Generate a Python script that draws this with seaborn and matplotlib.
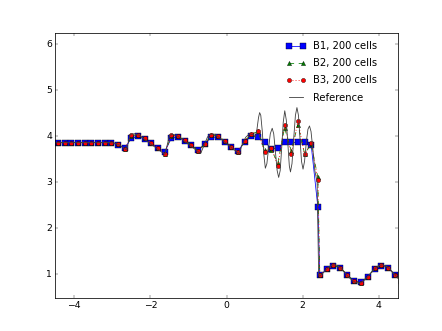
import numpy as np
import pandas as pd
import matplotlib
matplotlib.use("Agg")
import matplotlib.pyplot as plt
import seaborn as sns

plt.style.use("classic")
plt.rcParams["font.family"] = ["DejaVu Sans"]

# cell-centre positions of the plotted markers (200-cell runs)
x_num = [-4.6, -4.425, -4.25, -4.075, -3.9, -3.725, -3.55, -3.375, -3.2, -3.025,
         -2.85, -2.675, -2.5, -2.325, -2.15, -1.975, -1.8, -1.625, -1.45, -1.275,
         -1.1, -0.925, -0.75, -0.575, -0.4, -0.225, -0.05, 0.125, 0.3, 0.475,
         0.65, 0.825, 1.0, 1.175, 1.35, 1.525, 1.7, 1.875, 2.05, 2.225,
         2.4, 2.45, 2.63, 2.81, 2.99, 3.17, 3.35, 3.53, 3.71, 3.89,
         4.07, 4.25, 4.43, 4.61]

b1 = [3.857, 3.857, 3.857, 3.857, 3.857, 3.857, 3.857, 3.857, 3.857, 3.857,
      3.80, 3.74, 3.95, 4.00, 3.93, 3.84, 3.74, 3.66, 3.95, 3.98,
      3.90, 3.80, 3.70, 3.82, 3.98, 3.97, 3.88, 3.77, 3.67, 3.88,
      4.00, 3.98, 3.88, 3.72, 3.74, 3.86, 3.86, 3.86, 3.88, 3.80,
      2.45, 0.97, 1.10, 1.18, 1.13, 0.98, 0.85, 0.82, 0.94, 1.11,
      1.18, 1.13, 0.98, 0.85]

b2 = [3.857, 3.857, 3.857, 3.857, 3.857, 3.857, 3.857, 3.857, 3.857, 3.857,
      3.83, 3.72, 4.01, 4.03, 3.95, 3.85, 3.74, 3.62, 4.01, 4.00,
      3.91, 3.81, 3.68, 3.82, 4.02, 4.00, 3.89, 3.77, 3.65, 3.89,
      4.04, 4.10, 3.70, 3.70, 3.42, 4.18, 3.68, 4.25, 3.62, 3.82,
      3.10, 0.97, 1.10, 1.19, 1.14, 0.98, 0.84, 0.81, 0.94, 1.12,
      1.19, 1.14, 0.97, 0.84]

b3 = [3.857, 3.857, 3.857, 3.857, 3.857, 3.857, 3.857, 3.857, 3.857, 3.857,
      3.83, 3.71, 4.02, 4.03, 3.95, 3.85, 3.74, 3.61, 4.02, 4.00,
      3.91, 3.81, 3.68, 3.82, 4.03, 4.00, 3.89, 3.77, 3.65, 3.90,
      4.04, 4.12, 3.65, 3.75, 3.35, 4.25, 3.62, 4.32, 3.60, 3.85,
      3.05, 0.97, 1.10, 1.19, 1.14, 0.98, 0.84, 0.81, 0.94, 1.12,
      1.19, 1.14, 0.97, 0.84]

x_ref = [-4.6, -3.1, -2.95, -2.8, -2.7, -2.63, -2.58, -2.53, -2.42, -2.3,
         -1.62, -1.56, -1.50, -1.42, -1.3, -0.68, -0.6, -0.5, -0.42, -0.3,
         0.32, 0.4, 0.5, 0.6, 0.7, 0.76, 0.80, 0.84, 0.87, 0.90,
         0.94, 0.98, 1.02, 1.06, 1.10, 1.15, 1.20, 1.24, 1.28, 1.33,
         1.37, 1.41, 1.45, 1.49, 1.53, 1.57, 1.61, 1.65, 1.68, 1.72,
         1.77, 1.81, 1.85, 1.89, 1.93, 1.97, 2.01, 2.05, 2.10, 2.14,
         2.18, 2.22, 2.27, 2.32, 2.36, 2.38, 2.40, 2.42, 2.45, 2.5,
         2.6, 2.7, 2.8, 2.9, 3.0, 3.1, 3.2, 3.3, 3.4, 3.5,
         3.6, 3.7, 3.8, 3.9, 4.0, 4.1, 4.2, 4.3, 4.4, 4.5, 4.6]
y_ref = [3.857, 3.857, 3.85, 3.80, 3.74, 3.70, 3.85, 4.04, 4.05, 4.02,
         3.60, 3.80, 4.01, 4.04, 4.01, 3.62, 3.78, 3.98, 4.04, 4.04,
         3.62, 3.78, 3.97, 4.05, 4.03, 3.98, 4.15, 4.40, 4.51, 4.45,
         4.10, 3.60, 3.30, 3.40, 3.70, 4.05, 4.17, 4.05, 3.70, 3.25,
         3.10, 3.25, 3.75, 4.30, 4.55, 4.35, 3.85, 3.35, 3.22, 3.40,
         4.00, 4.45, 4.62, 4.45, 3.95, 3.45, 3.28, 3.45, 3.90, 4.15,
         4.22, 4.10, 3.70, 3.25, 3.08, 3.00, 2.00, 1.00, 0.95, 0.99,
         1.08, 1.16, 1.20, 1.19, 1.13, 1.04, 0.94, 0.86, 0.81, 0.80,
         0.85, 0.93, 1.03, 1.12, 1.18, 1.20, 1.17, 1.10, 1.00, 0.91, 0.83]

df = pd.DataFrame({"x": x_num, "B1": b1, "B2": b2, "B3": b3})
ref = pd.DataFrame({"x": x_ref, "y": y_ref})

fig = plt.figure(figsize=(8.0, 5.9915), dpi=55.25)
ax = fig.add_subplot(111)

sns.lineplot(data=df, x="x", y="B1", ax=ax, color="b", linestyle="-", lw=1,
             marker="s", markersize=9, markeredgecolor="k", markeredgewidth=0.5,
             label="B1, 200 cells", errorbar=None)
sns.lineplot(data=df, x="x", y="B2", ax=ax, color="g", linestyle="--", lw=1,
             marker="^", markersize=5.5, markeredgecolor="k", markeredgewidth=0.5,
             label="B2, 200 cells", errorbar=None)
sns.lineplot(data=df, x="x", y="B3", ax=ax, color="r", linestyle=":", lw=1.3,
             marker="o", markersize=5.5, markeredgecolor="k", markeredgewidth=0.5,
             label="B3, 200 cells", errorbar=None)
sns.lineplot(data=ref, x="x", y="y", ax=ax, color="0.25", lw=1.1,
             label="Reference", errorbar=None)

ax.set_xlim(-4.5, 4.5)
ax.set_ylim(0.48, 6.24)
ax.set_xticks([-4, -2, 0, 2, 4])
ax.set_yticks([1, 2, 3, 4, 5, 6])
ax.set_xlabel("")
ax.set_ylabel("")
ax.legend(loc="upper right", bbox_to_anchor=(0.95, 0.985), frameon=False,
          numpoints=2, fontsize=13, handlelength=2.0, handletextpad=0.7,
          labelspacing=0.72, borderaxespad=0.0)

fig.savefig("out.png", dpi=55.25)
